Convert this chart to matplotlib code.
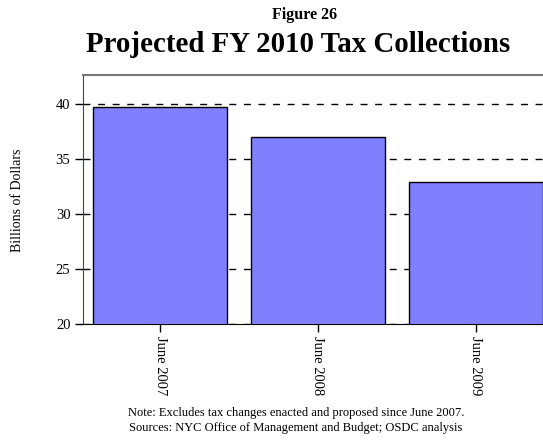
import matplotlib
matplotlib.use("Agg")
import matplotlib.pyplot as plt

categories = ["June 2007", "June 2008", "June 2009"]
values = [39.7, 37.0, 32.9]
yticks = [20, 25, 30, 35, 40]

plt.rcParams['font.family'] = ['Liberation Serif', 'DejaVu Serif']

fig = plt.figure(figsize=(5.43, 4.40), dpi=100)
ax = fig.add_axes([83/543, 1 - 324/440, 1 - 83/543, (324 - 75)/440])

x = list(range(len(categories)))
ax.bar(x, values, width=0.85, color='#8080FF', edgecolor='black', linewidth=1.0, zorder=3)

ax.set_ylim(20, 42.6)
ax.set_xlim(-0.49, 2.427)
ax.set_yticks(yticks)
ax.set_yticklabels([str(t) for t in yticks], fontsize=10.5)
ax.set_xticks(x)
ax.set_xticklabels(categories, rotation=270, fontsize=10.5, va='top', ha='center')

ax.yaxis.grid(True, linestyle=(0, (5, 5.5)), color='black', linewidth=1.0, zorder=0)
ax.set_axisbelow(True)

ax.spines['right'].set_visible(False)
ax.spines['top'].set_color('#777777')
ax.spines['top'].set_linewidth(1.5)
ax.spines['left'].set_color('#444444')
ax.spines['bottom'].set_color('black')
ax.tick_params(axis='both', direction='out', length=6, width=1.0)
ax.tick_params(axis='y', pad=3)
ax.tick_params(axis='x', pad=3)

fig.text(18/543, 1 - 200/440, "Billions of Dollars", rotation=90, ha='center', va='center', fontsize=10)

fig.text(305/543, 1 - 15/440, "Figure 26", ha='center', va='center', fontsize=11.5, fontweight='bold')
fig.text(298/543, 1 - 45/440, "Projected FY 2010 Tax Collections", ha='center', va='center', fontsize=20.8, fontweight='bold')

fig.text(296/543, 1 - 413/440, "Note: Excludes tax changes enacted and proposed since June 2007.", ha='center', va='center', fontsize=9)
fig.text(296/543, 1 - 428/440, "Sources: NYC Office of Management and Budget; OSDC analysis", ha='center', va='center', fontsize=9)

fig.savefig("out.png", dpi=100)
